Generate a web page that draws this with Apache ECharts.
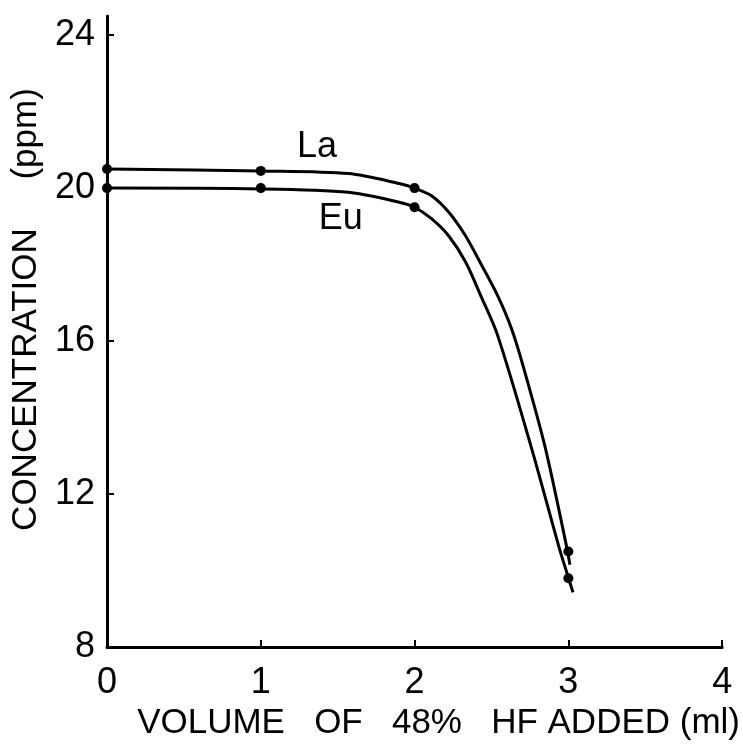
<!DOCTYPE html>
<html>
<head>
<meta charset="utf-8">
<script src="https://cdn.jsdelivr.net/npm/echarts@6/dist/echarts.min.js"></script>
<style>
  html, body { margin: 0; padding: 0; background: #fff; }
  #chart { width: 743px; height: 746px; }
</style>
</head>
<body>
<div id="chart"></div>
<script>
// Measured concentrations (ppm) against volume of 48% HF added (ml)
const volumes = [0, 1, 2, 3];
const laMeasured = [20.5, 20.45, 20.0, 10.5];
const euMeasured = [20.0, 20.0, 19.5, 9.8];

// Hand-drawn fitted curves, traced as [volume, concentration] pairs
const laCurve = [
  [0, 20.5], [1, 20.45], [1.57, 20.38], [1.9, 20.12], [2, 20.0],
  [2.11, 19.8], [2.22, 19.38], [2.33, 18.76], [2.43, 18.03], [2.54, 17.19],
  [2.63, 16.33], [2.71, 15.29], [2.85, 13.21], [2.99, 10.6], [3.01, 10.15]
];
const euCurve = [
  [0, 20.0], [1, 19.98], [1.57, 19.89], [1.9, 19.63], [2, 19.5],
  [2.11, 19.2], [2.22, 18.76], [2.33, 18.08], [2.43, 17.19], [2.54, 16.15],
  [2.76, 13.21], [2.94, 10.6], [3.0, 9.82], [3.03, 9.43]
];

// Curve name labels, anchored in data space
const curveLabels = [
  { name: 'La', value: [1.366, 21.07] },
  { name: 'Eu', value: [1.52, 19.2] }
];

const xTicks = [0, 1, 2, 3, 4];
const yTicks = [8, 12, 16, 20, 24];

const ink = '#000';
const font = "'Liberation Sans', Arial, sans-serif";

const chart = echarts.init(document.getElementById('chart'), null, { renderer: 'canvas' });

const pts = (ys) => volumes.map((v, i) => [v, ys[i]]);

chart.setOption({
  animation: false,
  backgroundColor: '#fff',
  grid: { left: 107, right: 18, top: 16, bottom: 96, containLabel: false },
  xAxis: {
    type: 'value',
    min: 0, max: 4, interval: 1,
    name: 'VOLUME   OF   48%   HF ADDED (ml)',
    nameLocation: 'middle',
    nameGap: 52,
    nameTextStyle: { fontFamily: font, fontSize: 35, color: ink, padding: [0, 0, 0, 48] },
    axisLine: { show: true, lineStyle: { color: ink, width: 3 } },
    axisTick: { show: true, inside: true, length: 7, lineStyle: { color: ink, width: 2 }, customValues: xTicks },
    axisLabel: { fontFamily: font, fontSize: 36, color: ink, margin: 18, customValues: xTicks },
    splitLine: { show: false }
  },
  yAxis: {
    type: 'value',
    min: 8, max: 24.5,
    name: 'CONCENTRATION     (ppm)',
    nameLocation: 'middle',
    nameGap: 60,
    nameTextStyle: { fontFamily: font, fontSize: 35, color: ink, padding: [0, 0, 0, 44] },
    axisLine: { show: true, lineStyle: { color: ink, width: 3 } },
    axisTick: { show: true, inside: true, length: 7, lineStyle: { color: ink, width: 2 }, customValues: yTicks },
    axisLabel: { fontFamily: font, fontSize: 36, color: ink, margin: 12, customValues: yTicks },
    splitLine: { show: false }
  },
  series: [
    {
      name: 'La curve', type: 'line', data: laCurve,
      smooth: 0.3, showSymbol: false,
      lineStyle: { color: ink, width: 3 }, z: 2
    },
    {
      name: 'Eu curve', type: 'line', data: euCurve,
      smooth: 0.3, showSymbol: false,
      lineStyle: { color: ink, width: 3 }, z: 2
    },
    {
      name: 'La', type: 'scatter', data: pts(laMeasured),
      symbol: 'circle', symbolSize: 10, itemStyle: { color: ink, opacity: 1 }, z: 3
    },
    {
      name: 'Eu', type: 'scatter', data: pts(euMeasured),
      symbol: 'circle', symbolSize: 10, itemStyle: { color: ink, opacity: 1 }, z: 3
    },
    {
      name: 'labels', type: 'scatter', data: curveLabels,
      symbolSize: 0, silent: true,
      itemStyle: { opacity: 1 },
      label: {
        show: true, position: 'inside', formatter: (p) => p.name,
        fontFamily: font, fontSize: 36, color: ink, opacity: 1
      }
    }
  ]
});
</script>
</body>
</html>
